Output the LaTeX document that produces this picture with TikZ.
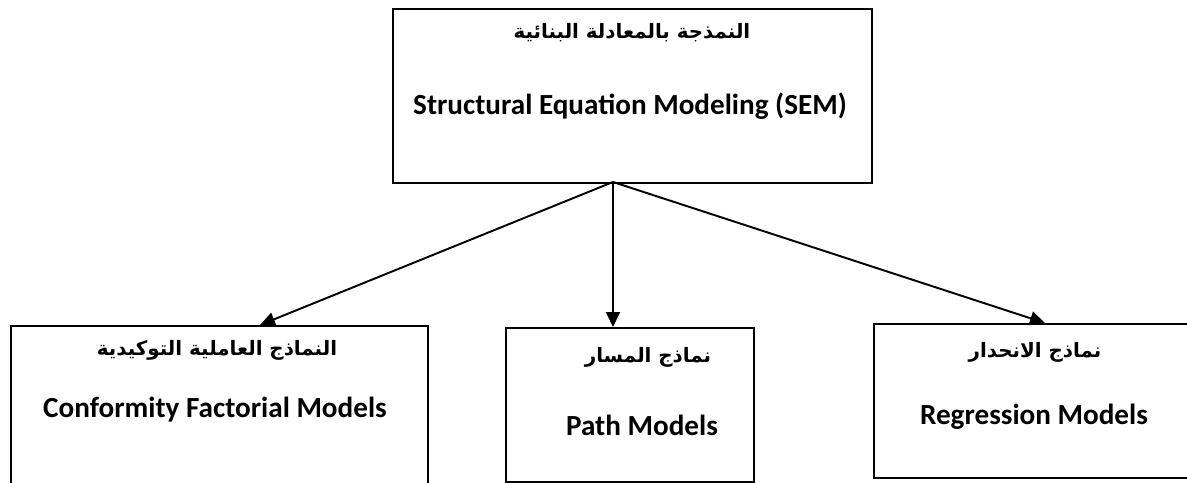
\documentclass[tikz,border=0pt]{standalone}
\usepackage{fontspec}
\setmainfont{Carlito}
\newfontfamily\arabicfont[Script=Arabic]{DejaVu Sans}
\TeXXeTstate=1
\usetikzlibrary{arrows.meta}

\begin{document}
\begin{tikzpicture}[
  x=0.02cm,y=-0.02cm,>={Triangle[length=3mm,width=2.8mm]},
  box/.style={draw,line width=1.1pt,inner sep=0pt,anchor=north west},
  en/.style={font=\fontsize{16.6}{19}\selectfont\bfseries,inner sep=0pt},
  ar/.style={font=\fontsize{11.3}{14}\selectfont\arabicfont\bfseries,inner sep=0pt},
  arr/.style={->,line width=1.1pt},
]
  \clip (0,0) rectangle (1187,483);
  % boxes
  \node[box,minimum width=479*0.02cm,minimum height=174*0.02cm] (sem) at (392,8) {};
  \node[box,minimum width=417*0.02cm,minimum height=180*0.02cm] (cfm) at (10,325) {};
  \node[box,minimum width=248*0.02cm,minimum height=154*0.02cm] (path) at (505,327) {};
  \node[box,minimum width=330*0.02cm,minimum height=154*0.02cm] (reg) at (873,323) {};

  % texts
  \node[ar] (semar) at (632,33) {\beginR النمذجة بالمعادلة البنائية\endR};
  \node[en] (semen) at (630,106) {Structural Equation Modeling (SEM)};
  \node[ar] (cfmar) at (217,350) {\beginR النماذج العاملية التوكيدية\endR};
  \node[en] (cfmen) at (215,410) {Conformity Factorial Models};
  \node[ar] (pathar) at (648,357) {\beginR نماذج المسار\endR};
  \node[en] (pathen) at (642,425) {Path Models};
  \node[ar] (regar) at (1035,352) {\beginR نماذج الانحدار\endR};
  \node[en] (regen) at (1034,417) {Regression Models};

  % arrows
  \coordinate (hub) at (613,182);
  \coordinate (cfmin) at (260,325);
  \coordinate (regin) at (1045,323);
  \draw[arr] (hub) -- (cfmin);
  \draw[arr] (hub) -- (hub |- path.north);
  \draw[arr] (hub) -- (regin);
\end{tikzpicture}
\end{document}
